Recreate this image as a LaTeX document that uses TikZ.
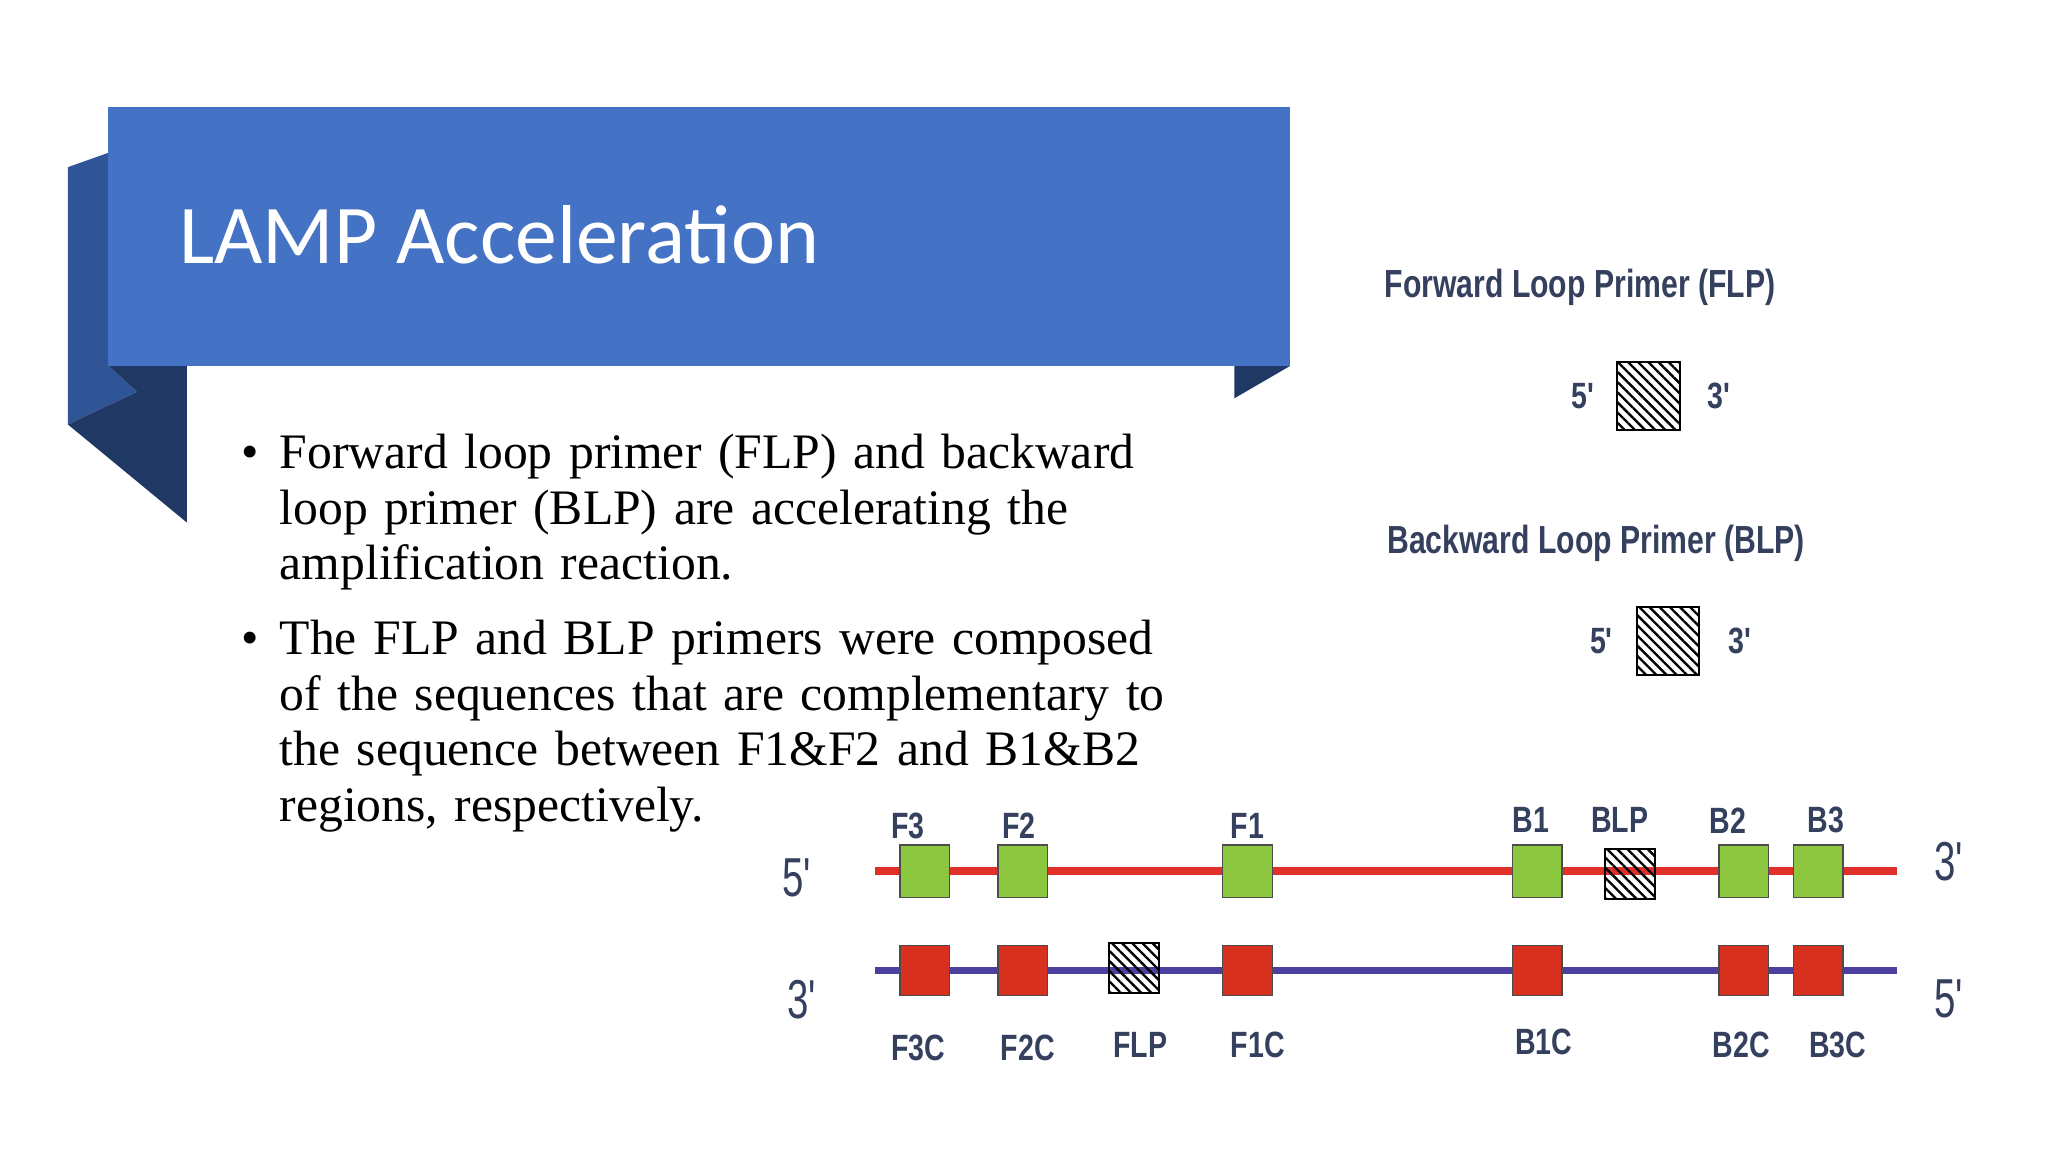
\documentclass[tikz,border=0pt]{standalone}
\usepackage{fontspec}
\setmainfont{Liberation Serif}
\newfontfamily\titlefont{Carlito}
\newfontfamily\labfont{Liberation Sans}
\usetikzlibrary{patterns.meta}
\definecolor{banner}{HTML}{4472C4}
\definecolor{midblue}{HTML}{2F5597}
\definecolor{navy}{HTML}{203864}
\definecolor{gbox}{HTML}{8DC63F}
\definecolor{rbox}{HTML}{D7301F}
\definecolor{strandr}{HTML}{E0302A}
\definecolor{strandb}{HTML}{4B3FA0}
\definecolor{labc}{HTML}{34405E}
\tikzset{
 gsq/.style={draw=black!70,line width=1pt,fill=gbox,minimum width=38pt,minimum height=40pt,inner sep=0},
 rsq/.style={draw=black!70,line width=1pt,fill=rbox,minimum width=38pt,minimum height=38pt,inner sep=0},
 hsq/.style={draw=black,line width=1.5pt,fill=white,pattern={Lines[angle=-45,distance=5.5pt,line width=1.8pt]},inner sep=0},
 lab/.style={font=\labfont\bfseries\fontsize{28}{30}\selectfont,text=labc,xscale=0.78,transform shape,inner sep=0},
 endl/.style={font=\labfont\fontsize{42}{44}\selectfont,text=labc,xscale=0.7,transform shape,inner sep=0},
 prim/.style={font=\labfont\bfseries\fontsize{30}{32}\selectfont,text=labc,xscale=0.77,transform shape,inner sep=0,anchor=west},
}
\begin{document}
\begin{tikzpicture}[x=1pt,y=-1pt]
\useasboundingbox[fill=white] (0,0) rectangle (1568,882);
% banner
\fill[midblue] (52,128) -- (83,117) -- (83,280) -- (105,300) -- (52,325) -- cycle;
\fill[navy] (52,325) -- (105,300) -- (83,280) -- (143,280) -- (143,400) -- cycle;
\fill[navy] (945,280) -- (988,280) -- (945,305) -- cycle;
\fill[banner] (83,82) rectangle (988,280);
\node[anchor=base west,inner sep=0,text=white,font=\titlefont\fontsize{64}{70}\selectfont] (title) at (137,202) {LAMP Acceleration};
% bullets
\node[anchor=north west,inner sep=0,text width=720pt,align=left,font=\fontsize{38}{42.5}\selectfont] (bul) at (176,316) {%
\begin{list}{\textbullet}{\leftmargin=38pt\labelwidth=20pt\labelsep=16pt\itemsep=15pt\parsep=0pt\topsep=0pt}\raggedright
\item Forward loop primer (FLP) and backward\\ loop primer (BLP) are accelerating the\\ amplification reaction.
\item The FLP and BLP primers were composed\\ of the sequences that are complementary to\\ the sequence between F1\&F2 and B1\&B2\\ regions, respectively.
\end{list}};
% legend
\node[prim] (flpt) at (1060,220) {Forward Loop Primer (FLP)};
\node[hsq,minimum width=48pt,minimum height=52pt] (flpbox) at (1262,303) {};
\node[lab] (f5) at (1212,303) {5'};
\node[lab] (f3) at (1316,303) {3'};
\node[prim] (blpt) at (1062,416) {Backward Loop Primer (BLP)};
\node[hsq,minimum width=48pt,minimum height=52pt] (blpbox) at (1277,491) {};
\node[lab] (b5) at (1226,491) {5'};
\node[lab] (b3) at (1332,491) {3'};
% strands
\coordinate (r1) at (670,667); \coordinate (r2) at (1452,667);
\coordinate (u1) at (670,743); \coordinate (u2) at (1452,743);
\draw[strandr,line width=6pt] (r1) -- (r2);
\draw[strandb,line width=6pt] (u1) -- (u2);
\foreach \n/\x in {F3/708,F2/783,F1/955,B1/1177,B2/1335,B3/1392}{
 \node[gsq] (g\n) at (\x,667) {};
 \node[rsq] (c\n) at (\x,743) {};
}
\node[hsq,minimum width=38pt,minimum height=38pt] (hb) at (1248,669) {};
\node[hsq,minimum width=38pt,minimum height=38pt] (hf) at (868,741) {};
\foreach \t/\x/\y in {F3/695/632,F2/780/632,F1/955/632,B1/1172/628,BLP/1240/628,B2/1323/628,B3/1398/628,F3C/703/802,F2C/787/802,FLP/873/800,F1C/963/800,B1C/1182/798,B2C/1333/800,B3C/1407/800}
 \node[lab] (l\t) at (\x,\y) {\t};
\node[endl] (e1) at (610,672) {5'};
\node[endl] (e2) at (1492,660) {3'};
\node[endl] (e3) at (614,765) {3'};
\node[endl] (e4) at (1492,765) {5'};
\end{tikzpicture}
\end{document}
